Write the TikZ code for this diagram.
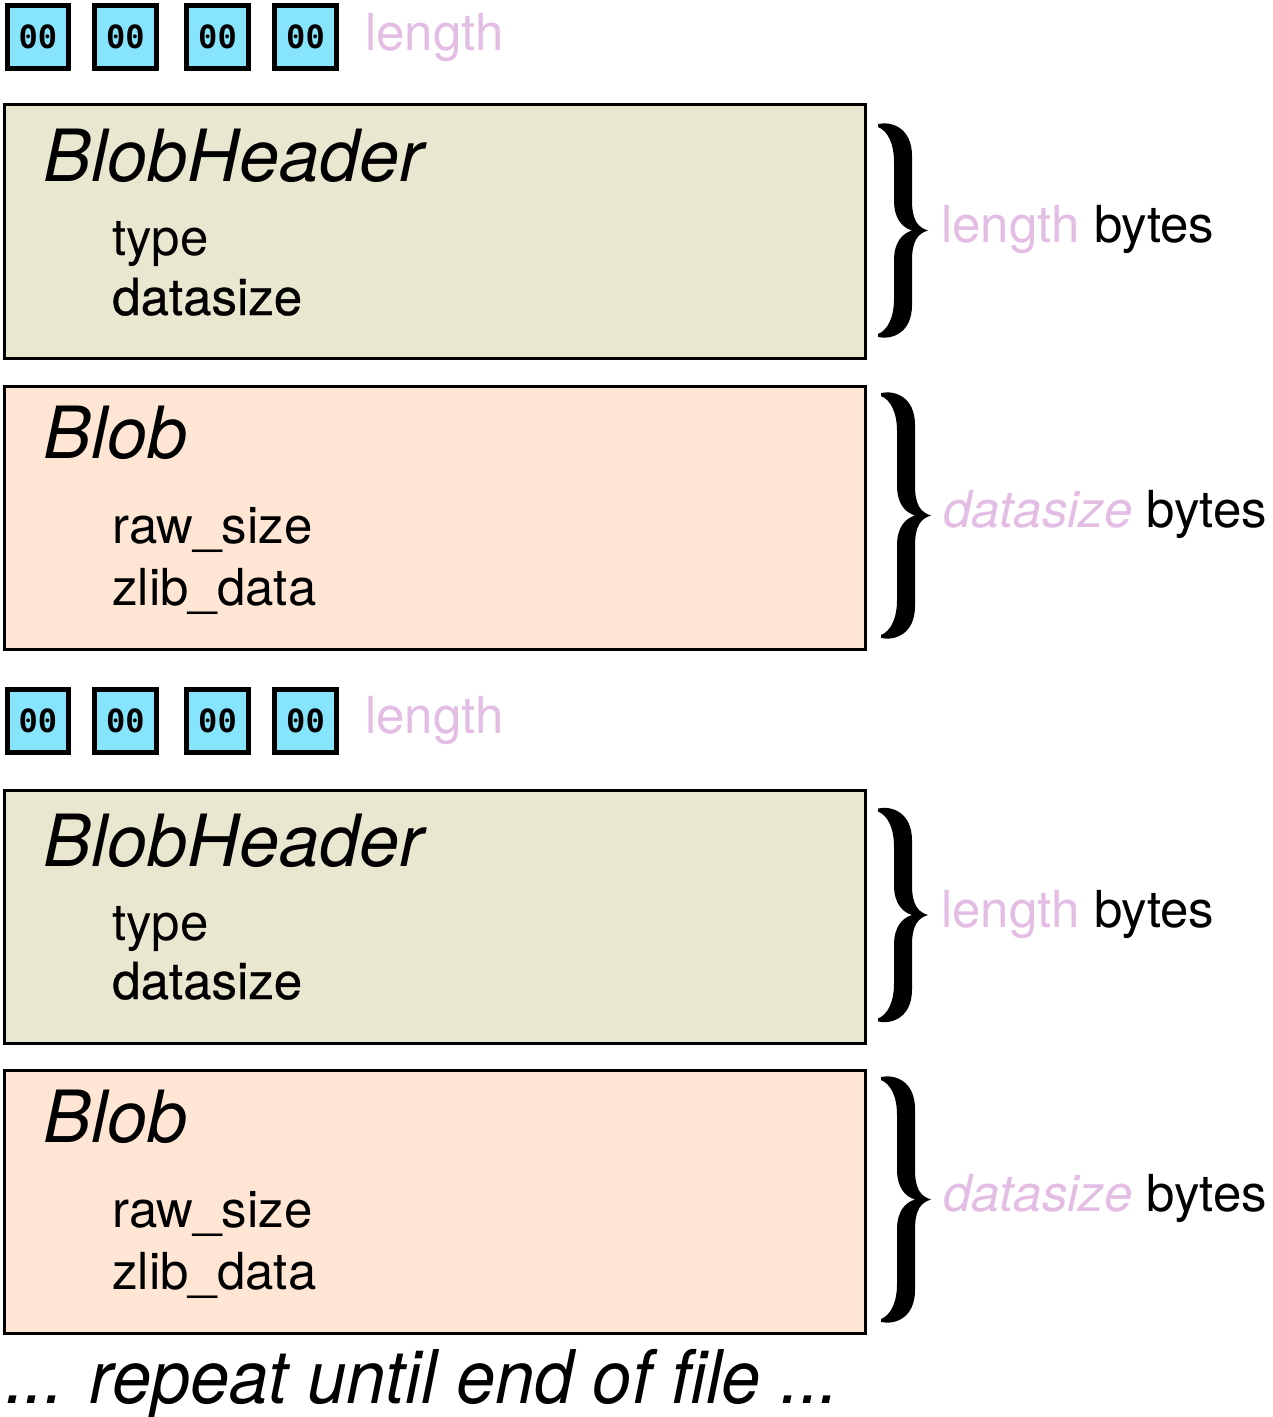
\documentclass[tikz,border=0pt]{standalone}
\usepackage{fontspec}
\setmainfont{TeX Gyre Heros}
\newfontfamily\monofnt{DejaVu Sans Mono}
\newfontfamily\heavierfnt[FakeBold=0.6]{TeX Gyre Heros}
\usepackage{graphicx}
\definecolor{cellcyan}{HTML}{86E5FC}
\definecolor{hdrbeige}{HTML}{E9E7CF}
\definecolor{blobpeach}{HTML}{FEE5D4}
\definecolor{pinktxt}{HTML}{E3BDE4}
\newcommand\bracefill[3]{% #1 x0, #2 yc, #3 h
  \fill[shift={(#1,#2)}]
    (0,-#3) .. controls (14,-#3-3) and (34,-#3+4) .. (34,-#3+32)
    -- (34,-30) .. controls (34,-10) and (40,-3) .. (50,0)
    .. controls (40,3) and (34,10) .. (34,30)
    -- (34,#3-32) .. controls (34,#3-4) and (14,#3+3) .. (0,#3)
    -- (0,#3-3) .. controls (10,#3-7) and (16,#3-20) .. (16,#3-38)
    -- (16,30) .. controls (16,12) and (24,3) .. (34,0)
    .. controls (24,-3) and (16,-12) .. (16,-30)
    -- (16,-#3+38) .. controls (16,-#3+20) and (10,-#3+7) .. (0,-#3+3)
    -- cycle;}
\begin{document}
\begin{tikzpicture}[x=0.75pt,y=-0.75pt,
  cellbox/.style={draw=black,line width=3.75pt,fill=cellcyan,minimum width=61.5*0.75pt,minimum height=63*0.75pt,inner sep=0pt,font=\monofnt\bfseries\fontsize{24}{26}\selectfont},
  hdrbox/.style={draw=black,line width=2.25pt,fill=hdrbeige},
  blobbox/.style={draw=black,line width=2.25pt,fill=blobpeach},
  txt/.style={anchor=base west,inner sep=0pt,font=\fontsize{38.25}{40}\selectfont},
  boldtxt/.style={anchor=base west,inner sep=0pt,font=\heavierfnt\fontsize{38.25}{40}\selectfont},
  pinklbl/.style={txt,text=pinktxt},
  titletxt/.style={anchor=base west,inner sep=0pt,font=\itshape\fontsize{54}{56}\selectfont}]
\useasboundingbox (0,0) rectangle (1273,1417);
\fill[white] (0,0) rectangle (1273,1417);
% ---- first group
\node[cellbox] (c11) at (38,37) {00};
\node[cellbox] (c12) at (125.5,37) {00};
\node[cellbox] (c13) at (217.5,37) {00};
\node[cellbox] (c14) at (305.5,37) {00};
\node[pinklbl] (len1) at (365,50) {length};
\draw[hdrbox] (4.5,104.5) rectangle (865.5,358.5);
\node[titletxt] (bh1) at (43,181) {BlobHeader};
\node[txt] (ty1) at (112,255) {type};
\node[boldtxt] (ds1) at (112,315) {datasize};
\bracefill{878}{230.5}{106.5}
\node[txt] (lb1) at (941,242) {\textcolor{pinktxt}{length} bytes};
\draw[blobbox] (4.5,386.5) rectangle (865.5,649.5);
\node[titletxt] (b1) at (43,458) {Blob};
\node[txt] (rs1) at (112,543) {raw\_size};
\node[txt] (zd1) at (112,605) {zlib\_data};
\bracefill{881}{515.5}{122.5}
\node[txt] (db1) at (943,527) {\textcolor{pinktxt}{\itshape datasize} bytes};
% ---- second group
\node[cellbox] (c21) at (38,721) {00};
\node[cellbox] (c22) at (125.5,721) {00};
\node[cellbox] (c23) at (217.5,721) {00};
\node[cellbox] (c24) at (305.5,721) {00};
\node[pinklbl] (len2) at (365,733) {length};
\draw[hdrbox] (4.5,790.5) rectangle (865.5,1043.5);
\node[titletxt] (bh2) at (43,866) {BlobHeader};
\node[txt] (ty2) at (112,940) {type};
\node[boldtxt] (ds2) at (112,999) {datasize};
\bracefill{878}{915}{106.5}
\node[txt] (lb2) at (941,927) {\textcolor{pinktxt}{length} bytes};
\draw[blobbox] (4.5,1070.5) rectangle (865.5,1333.5);
\node[titletxt] (b2) at (43,1142) {Blob};
\node[txt] (rs2) at (112,1227) {raw\_size};
\node[txt] (zd2) at (112,1289) {zlib\_data};
\bracefill{881}{1199.5}{122.5}
\node[txt] (db2) at (943,1211) {\textcolor{pinktxt}{\itshape datasize} bytes};
% ---- footer
\node[anchor=base west,inner sep=0pt] (rep) at (5,1403) {\scalebox{0.95}[1]{\itshape\fontsize{55.5}{58}\selectfont ... repeat until end of file ...}};
\end{tikzpicture}
\end{document}
